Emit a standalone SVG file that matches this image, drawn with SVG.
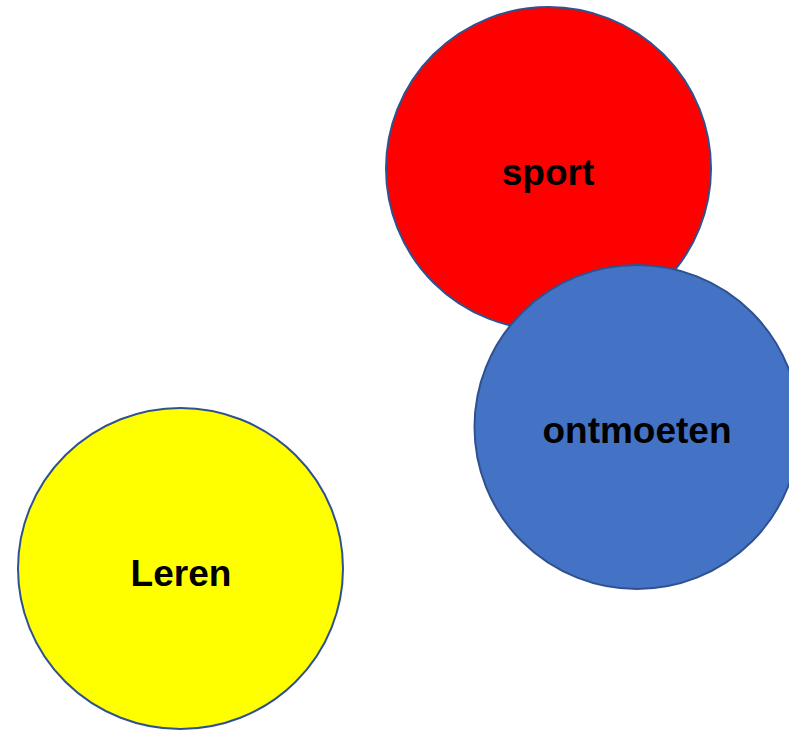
<svg xmlns="http://www.w3.org/2000/svg" width="789" height="731" viewBox="0 0 789 731">
<style>
.c{stroke:#2F528F;stroke-width:2}
.t{font-family:"Liberation Sans",Arial,sans-serif;font-weight:bold;font-size:37px;text-anchor:middle;fill:#000}
</style>
<rect width="789" height="731" fill="#fff"/>
<g id="sport">
<ellipse class="c" cx="548.5" cy="168.5" rx="162.5" ry="161.5" fill="#FF0000"/>
<text class="t" x="548" y="185">sport</text>
</g>
<g id="ontmoeten">
<ellipse class="c" cx="637" cy="427" rx="162.5" ry="162" fill="#4472C4"/>
<text class="t" x="637" y="443">ontmoeten</text>
</g>
<g id="leren">
<ellipse class="c" cx="180.5" cy="568.5" rx="162.5" ry="160.5" fill="#FFFF00"/>
<text class="t" x="181" y="586">Leren</text>
</g>
<g id="connectors"></g>
</svg>
